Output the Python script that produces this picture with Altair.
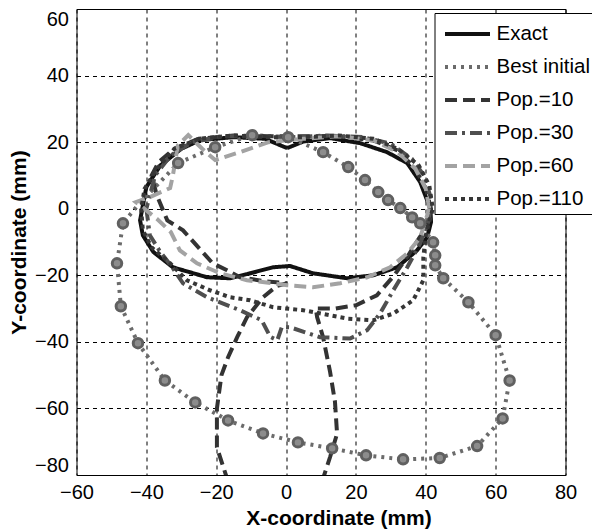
import altair as alt
import pandas as pd

SERIES = ["Exact", "Best initial", "Pop.=10", "Pop.=30", "Pop.=60", "Pop.=110"]
COLORS = ["#111111", "#6b6b6b", "#333333", "#4f4f4f", "#a3a3a3", "#363636"]
DASHES = [[1, 0], [3, 5], [12, 6], [12, 5, 3, 5], [12, 6], [4, 4]]

EX_X = [0.3, 5, 12.6, 21.2, 28.9, 34.7, 38.4, 41.3, 41.5, 40.4, 37.5, 31.8, 25, 17.5, 7.7, 1.1,
        -3.7, -10.3, -16, -22.6, -32.4, -38, -41, -41.8, -40, -36, -30, -24.6, -15, -6, 0.3]
EX_Y = [18.2, 20.2, 21.2, 19.7, 17, 13.7, 8, 0, -4, -8.6, -12.5, -17.6, -20, -20.9, -19.4, -17.2,
        -17.6, -19.4, -20.9, -20.6, -17.6, -13, -8, -3.5, 6.5, 13, 18, 20.6, 21.5, 21, 18.2]

BI_X = [-9.7, 0.6, 10.6, 17.8, 22.6, 26.4, 29.2, 32.7, 36.1, 38.4, 42.1, 42.7, 42.7, 45.0, 52.2,
        60.0, 64.0, 62.0, 54.7, 44.0, 33.5, 22.9, 13.2, 3.4, -6.6, -16.6, -26.0, -34.7, -42.4,
        -47.3, -48.4, -46.7, -42.5, -37.0, -30.9, -20.3, -9.7]
BI_Y = [22.1, 21.5, 17.0, 12.5, 8.6, 5.0, 2.6, 0.2, -2.6, -4.4, -10.1, -14.0, -17.0, -20.9, -28.1,
        -38.0, -51.6, -63.0, -71.3, -74.9, -75.3, -74.1, -72.0, -70.2, -67.5, -63.6, -58.2, -51.6,
        -40.4, -29.3, -16.4, -4.4, 1.0, 7.0, 13.7, 18.5, 22.1]
BI_MARK = [1] * 32 + [0, 0] + [1, 1] + [0]

P10_X = [-16.6, -19.8, -19.8, -18.5, -16.6, -14.0, -11.2, -6.6, -2.6, 0.3, -6, -13.2, -16.9, -21,
         -29.5, -34, -37, -38.5, -36.5, -32, -25, -15, -5, 5, 15, 25, 32, 37, 40, 41.5, 40.5, 38,
         35, 31, 26, 20, 14, 8.5, 8.9, 10.6, 12.6, 14.0, 14.6, 12.6, 10.3]
P10_Y = [-82, -71.7, -60, -50, -44.6, -38.6, -32.6, -26.6, -23.2, -22.4, -21.8, -20.6, -18.5, -16.4,
         -6.5, -3.5, 4, 10, 14, 18, 21, 22, 21.8, 21.8, 21.8, 20.5, 17.5, 12, 6, 0, -5, -9,
         -14, -20, -26, -29, -30, -30, -32.6, -38.6, -49, -58, -67.6, -74.6, -82]

P30_X = [-40, -39, -36, -33, -29.5, -22.6, -13.2, -7, -4.5, -2.5, -1.2, 1.1, 9.7, 18.3, 23.2, 26.9,
         30.7, 34.7, 38.4, 41, 41.5, 39.5, 36, 30, 22, 12, 2, -8, -18, -27, -33, -37.5, -40]
P30_Y = [0, -8, -13, -17, -22.4, -26.6, -30.5, -33.5, -38.5, -39.5, -35.5, -35.6, -38.6, -39, -36.5,
         -31.5, -24.5, -17.6, -10.4, -3, 3, 10, 15, 19.5, 21.5, 22, 21.5, 21.8, 21.8, 20, 16, 10, 0]

P60_X = [41, 40, 37, 32, 25, 15, 5, -5, -13.2, -20.3, -24, -28, -31, -32.4, -33.2, -39, -43, -37,
         -33, -30.4, -25.5, -18.9, -11.2, -3.7, 0.3, 7.7, 15.5, 23.2, 29.8, 34.7, 38.4, 41]
P60_Y = [0, 6, 12, 17, 20.5, 21.8, 21, 20, 17, 14.6, 18, 22.1, 19, 10, 6.2, 3.5, 2, -3,
         -7, -12.5, -16.4, -19.4, -21.5, -22.4, -23, -23.6, -22.4, -20.6, -17.6, -13.4, -8.6, 0]

P110_X = [-41.5, -41, -38.5, -33.2, -28.4, -21.8, -16, -10.3, -3.7, 4.9, 17.5, 25, 30.7, 36.4, 39.3,
          39.3, 40, 42, 41, 38, 32, 25, 15, 5, -5, -15, -25, -32, -37, -40.5, -41.5]
P110_Y = [0, -6.5, -11.6, -16.4, -21.5, -24.5, -26.6, -27.5, -29.6, -30.5, -33, -33.5, -31.5, -27.5,
          -21.5, -14.6, -8, 0, 7, 13, 18, 21, 22, 21.5, 21.5, 22, 21, 18, 12, 6, 0]

XS = [EX_X, BI_X, P10_X, P30_X, P60_X, P110_X]
YS = [EX_Y, BI_Y, P10_Y, P30_Y, P60_Y, P110_Y]

rows = []
for name, xs, ys in zip(SERIES, XS, YS):
    for i, (x, y) in enumerate(zip(xs, ys)):
        m = BI_MARK[i] if name == "Best initial" else 0
        rows.append(dict(series=name, i=i, x=x, y=y, mark=m))
df = pd.DataFrame(rows)

FONT = "Liberation Sans"
xscale = alt.Scale(domain=[-60, 80], nice=False, zero=False)
yscale = alt.Scale(domain=[-80, 60], nice=False, zero=False)

xaxis = alt.Axis(values=list(range(-60, 81, 20)), title="X-coordinate (mm)", grid=True,
                 gridDash=[4, 4], gridColor="black", gridOpacity=1, gridWidth=1,
                 ticks=False, domain=False, labelFontSize=20, labelFont=FONT,
                 labelColor="black", labelPadding=7, labelFlush=False,
                 titleFontSize=21, titleFont=FONT, titleFontWeight="bold", titleColor="black",
                 titleX=262, titleY=43, titleBaseline="middle")
yaxis = alt.Axis(values=list(range(-80, 61, 20)), title="Y-coordinate (mm)", grid=True,
                 gridDash=[4, 4], gridColor="black", gridOpacity=1, gridWidth=1,
                 ticks=False, domain=False, labelFontSize=20, labelFont=FONT,
                 labelColor="black", labelPadding=8, labelFlush=True,
                 titleFontSize=21, titleFont=FONT, titleFontWeight="bold", titleColor="black",
                 titleX=-57, titleY=233, titleBaseline="middle")

legend = alt.Legend(title=None, orient="none", legendX=358, legendY=4,
                    symbolType="M-1.5,0H1.5", symbolSize=900, symbolStrokeWidth=4,
                    symbolOffset=12, labelFontSize=20.5, labelFont=FONT,
                    labelColor="black", strokeColor="black", fillColor="white", padding=4,
                    rowPadding=5, labelOffset=12, cornerRadius=0)

base = alt.Chart(df)
lines = base.mark_line(strokeWidth=4, clip=True).encode(
    x=alt.X("x:Q", scale=xscale, axis=xaxis),
    y=alt.Y("y:Q", scale=yscale, axis=yaxis),
    color=alt.Color("series:N", scale=alt.Scale(domain=SERIES, range=COLORS), legend=legend,
                    sort=SERIES),
    strokeDash=alt.StrokeDash("series:N", scale=alt.Scale(domain=SERIES, range=DASHES),
                              legend=legend, sort=SERIES),
    order=alt.Order("i:Q"),
)
markers = base.transform_filter("datum.mark == 1").mark_point(
    shape="circle", filled=True, fill="#8c8c8c", stroke="#606060", strokeWidth=3, size=90,
    opacity=1, clip=True
).encode(x=alt.X("x:Q", scale=xscale), y=alt.Y("y:Q", scale=yscale))

chart = alt.layer(lines, markers).properties(
    width=489, height=466,
    autosize=alt.AutoSizeParams(type="none"),
    padding={"left": 68.5, "top": 1, "right": 26, "bottom": 55},
    background="white",
).configure_view(stroke="black", strokeWidth=1)

chart.save("out.html", embed_options={"renderer": "svg", "actions": False})
